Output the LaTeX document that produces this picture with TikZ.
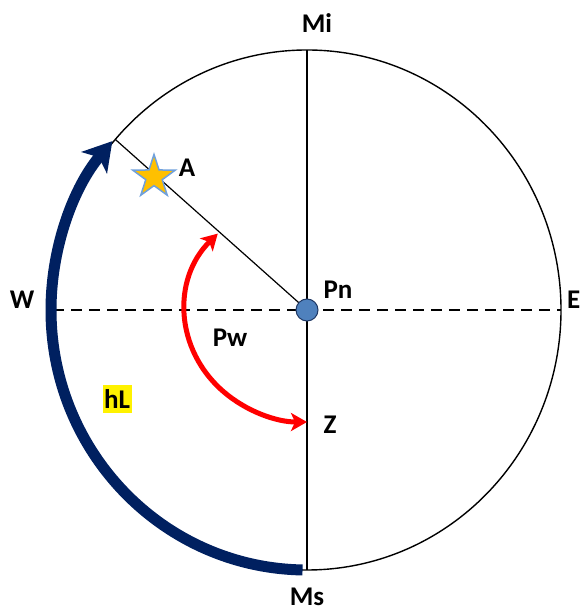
\documentclass[tikz,border=0pt]{standalone}
\usepackage{fontspec}
\setmainfont{Carlito}
\usetikzlibrary{arrows.meta,shapes.geometric,calc}
\definecolor{navy}{HTML}{002060}
\definecolor{dotfill}{HTML}{4F81BD}
\definecolor{dotline}{HTML}{1F3864}
\definecolor{starfill}{HTML}{FFC000}
\definecolor{starline}{HTML}{6FA0DC}
\tikzset{
  lbl/.style={font=\fontsize{27}{27}\selectfont\bfseries, inner sep=0pt},
  thinline/.style={line width=1.4pt, black},
}
\begin{document}
\begin{tikzpicture}[x=1pt,y=1pt]
\useasboundingbox (0,0) rectangle (580,612);
\coordinate (C) at (307,302);
\coordinate (Top) at (307,562);
\coordinate (Bot) at (307,42);
\coordinate (Lft) at (53,302);
\coordinate (Rgt) at (561,302);
\coordinate (R) at ($(C)+(139:254pt and 260pt)$);
% circle
\draw[thinline] (C) ellipse [x radius=254pt, y radius=260pt];
% vertical solid line
\draw[thinline] (Top) -- (Bot);
% horizontal dashed line
\draw[thinline, dash pattern=on 11pt off 7pt] (Lft) -- (Rgt);
% radial line
\draw[line width=1.2pt] (C) -- (R);
% navy arc
\draw[navy, line width=11pt, -{Stealth[length=28pt,width=33pt,inset=7pt]}]
  ($(C)+(269:256pt and 260pt)$) arc [start angle=269, end angle=139.5, x radius=256pt, y radius=260pt];
% red arc
\draw[red, line width=5pt, {Stealth[length=16pt,width=18pt,inset=4pt]}-{Stealth[length=16pt,width=18pt,inset=4pt]}]
  ($(C)+(137:122pt and 112pt)$) arc [start angle=137, end angle=270, x radius=122pt, y radius=112pt];
% Pn dot
\node (dot) [circle, fill=dotfill, draw=dotline, line width=1pt, minimum size=22pt, inner sep=0pt] at (C) {};
% star
\node (star) [star, star points=5, star point ratio=2.6, fill=starfill, draw=starline, line width=1.5pt, minimum size=45pt, inner sep=0pt] at (154,435) {};
% labels
\node[lbl] (mi) at (317,589) {Mi};
\node[lbl] (w) at (22,312) {W};
\node[lbl, anchor=west] (e) at (567,312) {E};
\node[lbl] (pn) at (338,322) {Pn};
\node[lbl] (pw) at (230,274) {Pw};
\node[lbl] (z) at (330,187) {Z};
\node[lbl] (a) at (187,444) {A};
\node[lbl, fill=yellow, minimum width=29pt, minimum height=28pt] (hl) at (117,213) {hL};
\node[lbl] (ms) at (307,15) {Ms};
\end{tikzpicture}
\end{document}
